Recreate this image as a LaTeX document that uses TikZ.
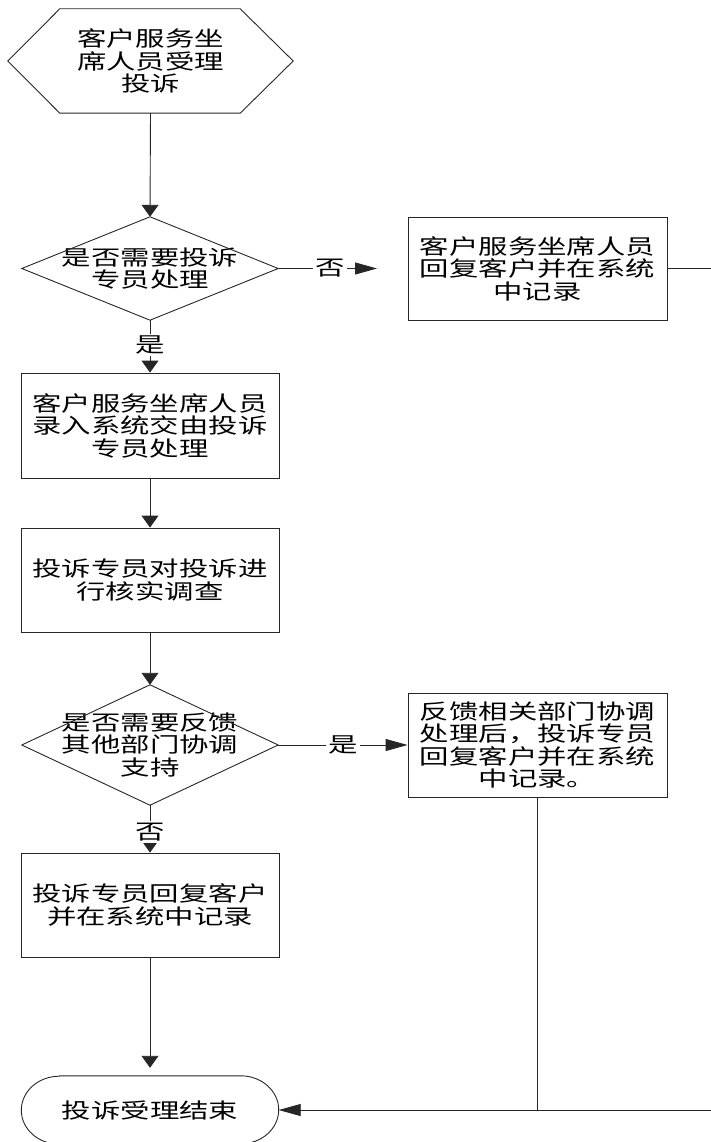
\documentclass[tikz,border=0pt]{standalone}
\usepackage{fontspec}
\newfontfamily\cjk[FakeStretch=1.4]{Noto Sans CJK SC}
\usetikzlibrary{arrows.meta}
\tikzset{
  every picture/.style={x=1pt,y=-1pt},
  frame/.style={inner sep=0pt, align=center, font=\cjk\fontsize{21}{22.5}\selectfont},
  boxn/.style={frame, draw=black!85, line width=0.9pt, minimum width=258pt, minimum height=104pt},
  ghost/.style={frame, minimum width=256pt, minimum height=104pt},
  outline/.style={draw=black!85, line width=0.9pt},
  conn/.style={draw=black!85, line width=0.9pt},
  varrow/.style={conn, -{Triangle[length=12pt,width=17pt]}},
  harrow/.style={conn, -{Triangle[length=22pt,width=12pt]}},
  lbl/.style={fill=white, inner sep=2pt, font=\cjk\fontsize{21}{22.5}\selectfont}
}
\begin{document}
\begin{tikzpicture}
\useasboundingbox (0,0) rectangle (711,1142);
% start hexagon
\node[ghost, minimum width=285pt, minimum height=104pt] (hex) at (150.5,61) {客户服务坐\\席人员受理\\投诉};
\draw[outline] (hex.west) -- ([xshift=52pt]hex.north west) -- ([xshift=-53pt]hex.north east)
  -- (hex.east) -- ([xshift=-53pt]hex.south east) -- ([xshift=52pt]hex.south west) -- cycle;
% decision 1
\node[ghost, minimum height=103pt] (d1) at (150,268.5) {是否需要投诉\\专员处理};
\draw[outline] (d1.north) -- (d1.east) -- (d1.south) -- (d1.west) -- cycle;
% box right 1
\node[boxn, minimum width=259pt, minimum height=103pt] (b2) at (537.5,268.5) {客户服务坐席人员\\回复客户并在系统\\中记录};
% box 3
\node[boxn, minimum height=105pt] (b3) at (150,425.5) {客户服务坐席人员\\录入系统交由投诉\\专员处理};
% box 4
\node[boxn] (b4) at (150,580) {投诉专员对投诉进\\行核实调查};
% decision 2
\node[ghost, minimum height=120pt] (d2) at (150,745) {是否需要反馈\\其他部门协调\\支持};
\draw[outline] (d2.north) -- (d2.east) -- (d2.south) -- (d2.west) -- cycle;
% box 5
\node[boxn, minimum width=259pt] (b5) at (537.5,745) {反馈相关部门协调\\处理后，投诉专员\\回复客户并在系统\\中记录。};
% box 6
\node[boxn] (b6) at (150,905) {投诉专员回复客户\\并在系统中记录};
% terminal
\node[ghost, minimum width=257pt, minimum height=68pt] (end) at (150,1110) {投诉受理结束};
\draw[outline] ([xshift=38pt]end.north west) -- ([xshift=-38pt]end.north east)
  arc[start angle=90, end angle=-90, x radius=38pt, y radius=34pt]
  -- ([xshift=38pt]end.south west)
  arc[start angle=270, end angle=90, x radius=38pt, y radius=34pt] -- cycle;
% free ends
\coordinate (c1) at (377,268.5);
\coordinate (c2) at (711,268.5);
\coordinate (c3) at (711,1110);
\coordinate (c4) at (b5.south |- end.east);
% connectors
\draw[varrow] (hex.south) -- (d1.north);
\draw[harrow] (d1.east) -- node[lbl, pos=0.525] {否} (c1);
\draw[conn] (b2.east) -- (c2);
\draw[varrow] (d1.south) -- node[lbl, pos=0.47] {是} (b3.north);
\draw[varrow] (b3.south) -- (b4.north);
\draw[varrow] (b4.south) -- (d2.north);
\draw[harrow] (d2.east) -- node[lbl, pos=0.5] {是} (b5.west);
\draw[varrow] (d2.south) -- node[lbl, pos=0.56] {否} (b6.north);
\draw[varrow, shorten >=8pt] (b6.south) -- (end.north);
\draw[conn] (b5.south) -- (c4);
\draw[harrow] (c3) -- (end.east);
\end{tikzpicture}
\end{document}
